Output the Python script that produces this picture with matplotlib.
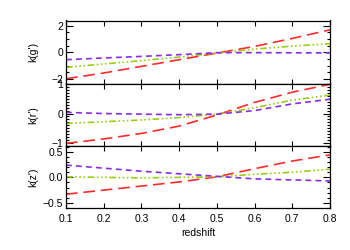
import matplotlib
matplotlib.use("Agg")
import matplotlib.pyplot as plt
from matplotlib.ticker import MultipleLocator

plt.rcParams['font.family'] = ['Liberation Sans', 'DejaVu Sans']

z = [0.1, 0.2, 0.3, 0.4, 0.5, 0.6, 0.7, 0.8]

g_red = [-1.98, -1.55, -1.05, -0.55, -0.05, 0.45, 1.05, 1.7]
g_green = [-1.13, -0.87, -0.62, -0.35, -0.05, 0.25, 0.47, 0.65]
g_purple = [-0.55, -0.42, -0.3, -0.17, -0.02, -0.02, -0.03, -0.04]

r_red = [-1.02, -0.87, -0.68, -0.43, -0.05, 0.38, 0.73, 1.0]
r_green = [-0.34, -0.28, -0.22, -0.14, -0.02, 0.2, 0.46, 0.63]
r_purple = [0.04, 0.0, -0.02, -0.04, -0.02, 0.1, 0.33, 0.49]

z_red = [-0.33, -0.25, -0.17, -0.09, 0.01, 0.17, 0.32, 0.44]
z_green = [0.01, 0.0, -0.01, 0.0, 0.01, 0.06, 0.1, 0.16]
z_purple = [0.24, 0.18, 0.12, 0.07, 0.02, -0.03, -0.05, -0.07]

ylabels = ["k(g')", "k(r')", "k(z')"]
ylims = [(-2.4, 2.4), (-1.1, 1.0), (-0.6, 0.62)]
majors = [2, 1, 0.5]
minors = [0.5, 0.1, 0.1]

red = '#ff2a2a'
green = '#9acd1a'
purple = '#8a2be2'

fig = plt.figure(figsize=(3.5, 2.5), dpi=100)
lefts = 66 / 350
width = (330 - 66) / 350
tops = [20.5, 84.3, 145.7]
bots = [84.3, 145.7, 208]

data = [(g_red, g_green, g_purple), (r_red, r_green, r_purple), (z_red, z_green, z_purple)]

for i in range(3):
    ax = fig.add_axes([lefts, 1 - bots[i] / 250, width, (bots[i] - tops[i]) / 250])
    rd, gr, pu = data[i]
    ax.plot(z, rd, color=red, lw=1.2, dashes=(7, 3.5))
    ax.plot(z, gr, color=green, lw=1.2, dashes=(4, 1.5, 1, 1.5, 1, 1.5, 1, 1.5))
    ax.plot(z, pu, color=purple, lw=1.2, dashes=(3.5, 2.5))
    ax.set_xlim(0.1, 0.8)
    ax.set_ylim(*ylims[i])
    ax.xaxis.set_major_locator(MultipleLocator(0.1))
    ax.yaxis.set_major_locator(MultipleLocator(majors[i]))
    ax.yaxis.set_minor_locator(MultipleLocator(minors[i]))
    ax.tick_params(which='both', direction='in', top=True, right=True, labelsize=7.5, width=0.8, pad=2)
    ax.tick_params(which='major', axis='y', length=5)
    ax.tick_params(which='minor', axis='y', length=2.5)
    ax.tick_params(which='major', axis='x', length=3.5)
    for s in ax.spines.values():
        s.set_linewidth(0.9)
    ax.set_ylabel(ylabels[i], fontsize=7.5, labelpad=6)
    ax.yaxis.set_label_coords(-0.105, 0.5)
    if i == 0:
        ax.set_yticks([-2, 0, 2])
        ax.set_yticklabels(['\u22122', '0', '2'])
    elif i == 1:
        ax.set_yticks([-1, 0, 1])
        ax.set_yticklabels(['\u22121', '0', '1'])
    else:
        ax.set_yticks([-0.5, 0.0, 0.5])
        ax.set_yticklabels(['\u22120.5', '0.0', '0.5'])
    if i < 2:
        ax.tick_params(axis='x', labelbottom=False)
    else:
        ax.set_xticks(z)
        ax.set_xticklabels(['0.1', '0.2', '0.3', '0.4', '0.5', '0.6', '0.7', '0.8'])
        ax.tick_params(axis='x', pad=4)
        ax.set_xlabel('redshift', fontsize=7.5, labelpad=3)

fig.savefig('out.png', dpi=100)
